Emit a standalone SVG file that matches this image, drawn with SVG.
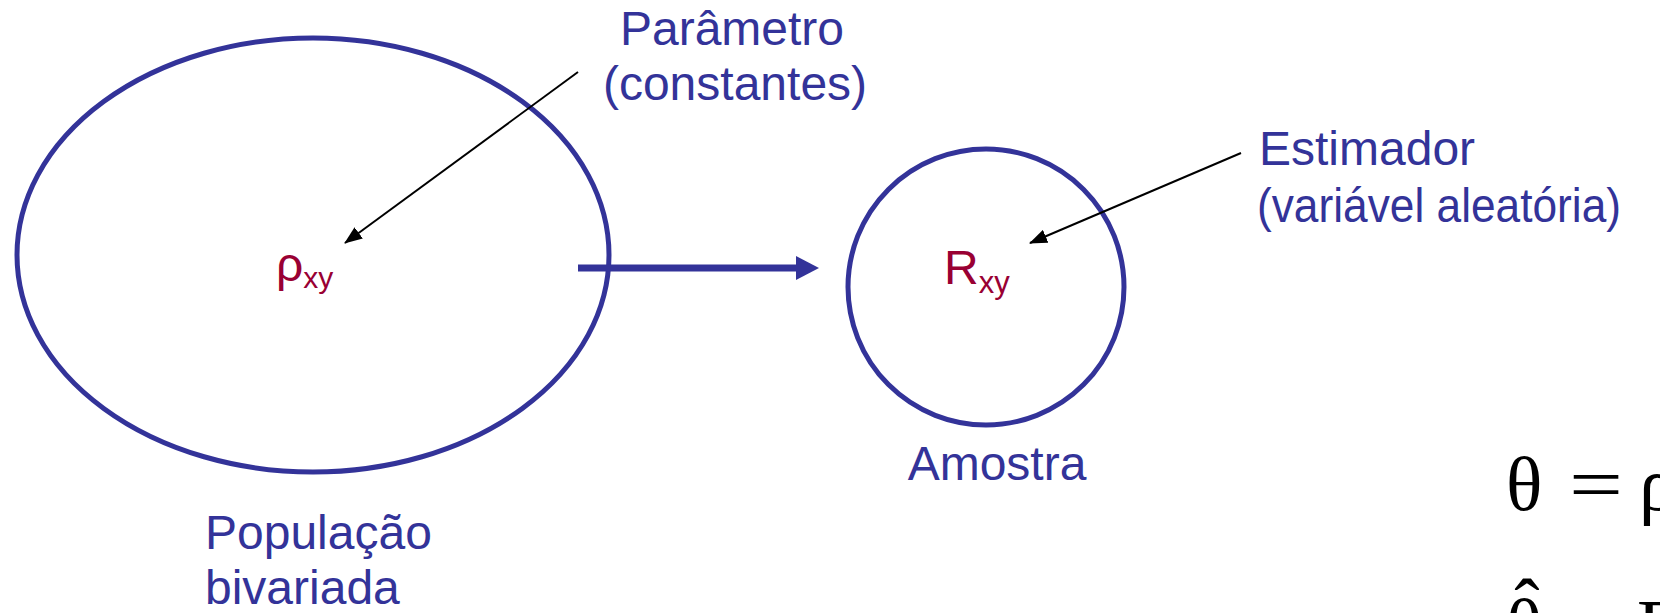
<svg xmlns="http://www.w3.org/2000/svg" width="1660" height="613" viewBox="0 0 1660 613">
<style>
.lbl{font-family:"Liberation Sans",Arial,sans-serif;font-size:48px;fill:#333399}
.var{font-family:"Liberation Sans",Arial,sans-serif;fill:#990033}
.math{font-family:"Liberation Serif","Times New Roman",serif;font-size:76px;fill:#000}
.shape{fill:none;stroke:#333399;stroke-width:5}
.ptr{stroke:#000;stroke-width:2;fill:none;marker-end:url(#ah)}
.big{stroke:#333399;stroke-width:7;fill:none;marker-end:url(#bh)}
</style>
<defs>
<marker id="ah" markerUnits="userSpaceOnUse" markerWidth="18" markerHeight="14" refX="17" refY="7" orient="auto" viewBox="0 0 18 14"><path d="M0,0 L18,7 L0,14 z" fill="#000"/></marker>
<marker id="bh" markerUnits="userSpaceOnUse" markerWidth="23" markerHeight="24" refX="1" refY="12" orient="auto" viewBox="0 0 23 24"><path d="M0,0 L23,12 L0,24 z" fill="#333399"/></marker>
</defs>
<rect width="1660" height="613" fill="#fff"/>
<g id="populacao">
<ellipse class="shape" cx="313" cy="255" rx="296" ry="217"/>
<text class="var" x="276" y="281" font-size="48" font-family="DejaVu Sans, sans-serif">ρ<tspan font-size="30" dy="7" font-family="Liberation Sans, Arial, sans-serif">xy</tspan></text>
<text class="lbl" x="205" y="549">População</text>
<text class="lbl" x="205" y="604">bivariada</text>
</g>
<g id="amostra">
<circle class="shape" cx="986" cy="287" r="138"/>
<text class="var" x="944" y="284" font-size="48">R<tspan font-size="31" dy="9">xy</tspan></text>
<text class="lbl" x="997" y="480" text-anchor="middle">Amostra</text>
</g>
<g id="parametro">
<text class="lbl" x="732" y="45" text-anchor="middle">Parâmetro</text>
<text class="lbl" x="735" y="100" text-anchor="middle">(constantes)</text>
</g>
<g id="estimador">
<text class="lbl" x="1259" y="165" font-size="47">Estimador</text>
<text class="lbl" x="1257" y="222" font-size="47" textLength="364" lengthAdjust="spacingAndGlyphs">(variável aleatória)</text>
</g>
<g id="formulas">
<text class="math" x="1506" y="510">θ</text>
<text class="math" x="1569" y="510" textLength="54" lengthAdjust="spacingAndGlyphs">=</text>
<text class="math" x="1639" y="510">ρ</text>
<text class="math" x="1527" y="632" text-anchor="middle">ˆ</text>
<text class="math" x="1506" y="652">θ</text>
<text class="math" x="1569" y="652" textLength="54" lengthAdjust="spacingAndGlyphs">=</text>
<text class="math" x="1637" y="652">R</text>
</g>
<g id="connectors">
<line class="big" x1="578" y1="268" x2="797" y2="268"/>
<line class="ptr" x1="578" y1="72" x2="345" y2="243"/>
<line class="ptr" x1="1241" y1="153" x2="1030" y2="243"/>
</g>
</svg>
